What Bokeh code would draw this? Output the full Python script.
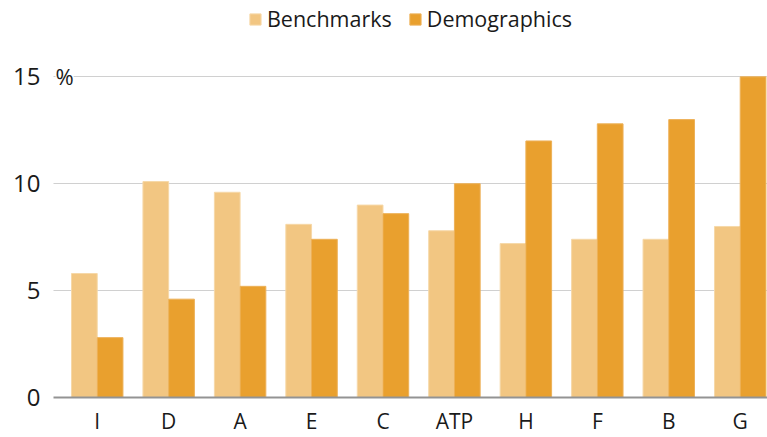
from bokeh.plotting import figure
from bokeh.models import ColumnDataSource, Range1d, FixedTicker, Label
from bokeh.transform import dodge
from bokeh.embed import file_html
from bokeh.resources import INLINE

categories = ["I", "D", "A", "E", "C", "ATP", "H", "F", "B", "G"]
benchmarks = [5.8, 10.1, 9.6, 8.1, 9.0, 7.8, 7.2, 7.4, 7.4, 8.0]
demographics = [2.8, 4.6, 5.2, 7.4, 8.6, 10.0, 12.0, 12.8, 13.0, 15.0]
y_ticks = [0, 5, 10, 15]

FONT = "Open Sans"
TEXT = "#1a1a1a"

pos = list(range(len(categories)))
src = ColumnDataSource(dict(x=pos, cat=categories, bench=benchmarks, demo=demographics))

p = figure(width=767, height=437, output_backend="svg", toolbar_location=None,
           x_range=Range1d(-0.612, 9.382), y_range=Range1d(0, 18.57),
           min_border_left=53, min_border_right=0, min_border_top=0, min_border_bottom=38)

p.vbar(x=dodge("x", -0.18), top="bench", width=0.36, source=src,
       fill_color="#F2C682", line_color="#F6D8A8", line_width=1, legend_label="Benchmarks")
p.vbar(x=dodge("x", 0.18), top="demo", width=0.36, source=src,
       fill_color="#E9A02E", line_color="#EDB158", line_width=1, legend_label="Demographics")

p.outline_line_color = None
p.background_fill_color = "white"
p.border_fill_color = "white"

p.xgrid.grid_line_color = None
p.ygrid.ticker = FixedTicker(ticks=[5, 10, 15])
p.ygrid.grid_line_color = "#a0a0a0"
p.ygrid.grid_line_dash = "1 1"
p.ygrid.grid_line_width = 1

p.yaxis.ticker = FixedTicker(ticks=y_ticks)
p.yaxis.axis_line_color = None
p.yaxis.major_tick_line_color = None
p.yaxis.minor_tick_line_color = None
p.yaxis.major_tick_out = 0
p.yaxis.major_tick_in = 0
p.yaxis.minor_tick_out = 0
p.yaxis.major_label_standoff = 13
p.yaxis.major_label_text_font = FONT
p.yaxis.major_label_text_font_size = "24px"
p.yaxis.major_label_text_color = TEXT

p.xaxis.ticker = FixedTicker(ticks=pos)
p.xaxis.major_label_overrides = {i: c for i, c in zip(pos, categories)}
p.xaxis.axis_line_color = "#939393"
p.xaxis.axis_line_width = 2
p.xaxis.major_tick_line_color = None
p.xaxis.minor_tick_line_color = None
p.xaxis.major_tick_out = 0
p.xaxis.major_tick_in = 0
p.xaxis.minor_tick_out = 0
p.xaxis.major_label_standoff = 9
p.xaxis.major_label_text_font = FONT
p.xaxis.major_label_text_font_size = "21px"
p.xaxis.major_label_text_color = TEXT

pct = Label(x=-0.612, y=15, text="%", x_offset=2, y_offset=1,
            text_baseline="middle", text_align="left", text_font=FONT,
            text_font_size="22px", text_color=TEXT,
            background_fill_color="white")
p.add_layout(pct)

lg = p.legend[0]
lg.location = "top_center"
lg.orientation = "horizontal"
lg.glyph_width = 14
lg.glyph_height = 14
lg.label_standoff = 5
lg.spacing = 16
lg.padding = 0
lg.margin = 4
lg.border_line_color = None
lg.background_fill_alpha = 0
lg.label_text_font = FONT
lg.label_text_font_size = "21.5px"
lg.label_text_color = TEXT

open("out.html", "w").write(file_html(p, INLINE))
